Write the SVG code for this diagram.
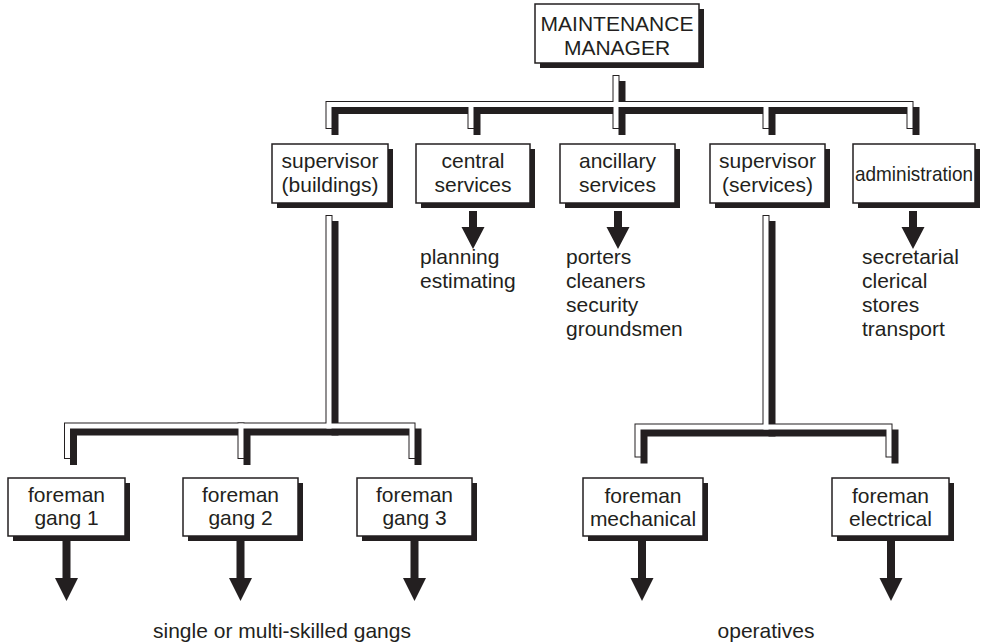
<svg xmlns="http://www.w3.org/2000/svg" width="995" height="644" viewBox="0 0 995 644">
<defs>
<style>
.sh{fill:#231f20}
.bx{fill:#fff;stroke:#231f20;stroke-width:1.5}
text{font-family:"Liberation Sans",Arial,Helvetica,sans-serif;font-size:21px;fill:#231f20}
.c{text-anchor:middle}
.arr{fill:#231f20}
</style>
<path id="arrLong" d="M-4,0 H4 V38 H11.5 L0,61 L-11.5,38 H-4 Z"/>
<path id="arrShort" d="M-4,0 H4 V16 H11.5 L0,38 L-11.5,16 H-4 Z"/>
<g id="pipes">
<path d="M329,125.5 V104.5 H910 V125.5"/>
<path d="M471,104.5 V125.5"/>
<path d="M616,78.5 V125.5"/>
<path d="M766,104.5 V125.5"/>
<path d="M329,218.5 V426"/>
<path d="M67.5,455.5 V426 H412 V455.5"/>
<path d="M241,426 V455.5"/>
<path d="M766,218.5 V427"/>
<path d="M638,454 V427 H889 V454"/>
</g>
</defs>

<g id="connectors" fill="none" stroke-linecap="square" stroke-linejoin="miter">
<g id="pipe-shadow" stroke="#231f20" stroke-width="7" transform="translate(6,6)"><use href="#pipes"/></g>
<g id="pipe-outline" stroke="#231f20" stroke-width="7"><use href="#pipes"/></g>
<g id="pipe-inner" stroke="#ffffff" stroke-width="5"><use href="#pipes"/></g>
</g>

<g id="manager">
<rect class="sh" x="540" y="9" width="164" height="59"/>
<rect class="bx" x="535" y="4" width="164" height="59"/>
<text class="c" x="617" y="31">MAINTENANCE</text>
<text class="c" x="617" y="55">MANAGER</text>
</g>

<g id="sup-buildings">
<rect class="sh" x="277" y="149" width="116" height="59"/>
<rect class="bx" x="272" y="144" width="116" height="59"/>
<text class="c" x="330" y="168">supervisor</text>
<text class="c" x="330" y="192">(buildings)</text>
</g>

<g id="central-services">
<rect class="sh" x="421" y="149" width="114" height="59"/>
<rect class="bx" x="416" y="144" width="114" height="59"/>
<text class="c" x="473" y="168">central</text>
<text class="c" x="473" y="192">services</text>
<use href="#arrShort" class="arr" x="473" y="211"/>
<text x="420" y="264">planning</text>
<text x="420" y="288">estimating</text>
</g>

<g id="ancillary-services">
<rect class="sh" x="565" y="149" width="115" height="59"/>
<rect class="bx" x="560" y="144" width="115" height="59"/>
<text class="c" x="617.5" y="168">ancillary</text>
<text class="c" x="617.5" y="192">services</text>
<use href="#arrShort" class="arr" x="618" y="211"/>
<text x="566" y="264">porters</text>
<text x="566" y="288">cleaners</text>
<text x="566" y="312">security</text>
<text x="566" y="336">groundsmen</text>
</g>

<g id="sup-services">
<rect class="sh" x="715" y="149" width="115" height="59"/>
<rect class="bx" x="710" y="144" width="115" height="59"/>
<text class="c" x="767.5" y="168">supervisor</text>
<text class="c" x="767.5" y="192">(services)</text>
</g>

<g id="administration">
<rect class="sh" x="858" y="149" width="122" height="59"/>
<rect class="bx" x="853" y="144" width="122" height="59"/>
<text class="c" x="914" y="181" textLength="118" lengthAdjust="spacingAndGlyphs">administration</text>
<use href="#arrShort" class="arr" x="913" y="211"/>
<text x="862" y="264">secretarial</text>
<text x="862" y="288">clerical</text>
<text x="862" y="312">stores</text>
<text x="862" y="336">transport</text>
</g>

<g id="gang1">
<rect class="sh" x="13" y="483" width="117" height="58"/>
<rect class="bx" x="8" y="478" width="117" height="58"/>
<text class="c" x="66.5" y="502">foreman</text>
<text class="c" x="66.5" y="525">gang 1</text>
<use href="#arrLong" class="arr" x="66.5" y="540"/>
</g>

<g id="gang2">
<rect class="sh" x="188" y="483" width="115" height="58"/>
<rect class="bx" x="183" y="478" width="115" height="58"/>
<text class="c" x="240.5" y="502">foreman</text>
<text class="c" x="240.5" y="525">gang 2</text>
<use href="#arrLong" class="arr" x="240.5" y="540"/>
</g>

<g id="gang3">
<rect class="sh" x="362" y="483" width="115" height="58"/>
<rect class="bx" x="357" y="478" width="115" height="58"/>
<text class="c" x="414.5" y="502">foreman</text>
<text class="c" x="414.5" y="525">gang 3</text>
<use href="#arrLong" class="arr" x="414.5" y="540"/>
</g>

<g id="mechanical">
<rect class="sh" x="588" y="483" width="120" height="58"/>
<rect class="bx" x="583" y="478" width="120" height="58"/>
<text class="c" x="643" y="503">foreman</text>
<text class="c" x="643" y="526">mechanical</text>
<use href="#arrLong" class="arr" x="642" y="540"/>
</g>

<g id="electrical">
<rect class="sh" x="837" y="483" width="117" height="58"/>
<rect class="bx" x="832" y="478" width="117" height="58"/>
<text class="c" x="890.5" y="503">foreman</text>
<text class="c" x="890.5" y="526">electrical</text>
<use href="#arrLong" class="arr" x="891" y="540"/>
</g>

<g id="labels">
<text x="153" y="638">single or multi-skilled gangs</text>
<text class="c" x="766" y="638">operatives</text>
</g>
</svg>
